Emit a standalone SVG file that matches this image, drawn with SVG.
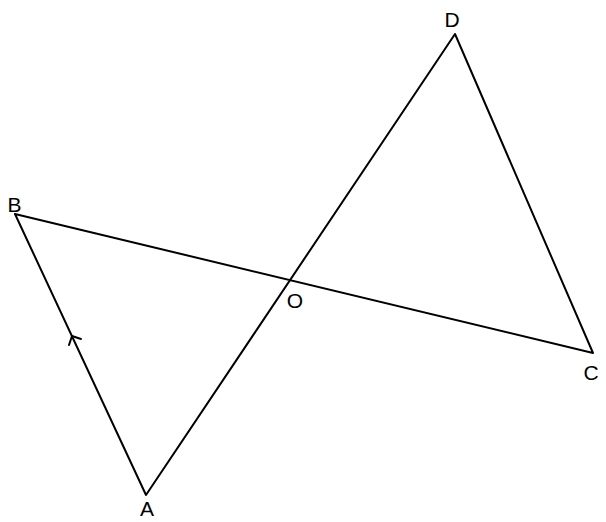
<svg xmlns="http://www.w3.org/2000/svg" width="606" height="522" viewBox="0 0 606 522">
<style>
.l{stroke:#000;stroke-width:2;fill:none;stroke-linecap:round;stroke-linejoin:round}
.t{font-family:"Liberation Sans",Arial,sans-serif;font-size:21px;fill:#000;text-anchor:middle}
</style>
<rect width="606" height="522" fill="#fff"/>
<g id="connectors">
<path class="l" d="M15,214 L593,353 L455,34 L146,495 Z"/>
<path class="l" d="M69,345 L72,336 L81,339"/>
</g>
<g id="B"><text class="t" x="14.5" y="212">B</text></g>
<g id="D"><text class="t" x="452" y="27">D</text></g>
<g id="A"><text class="t" x="147" y="516">A</text></g>
<g id="O"><text class="t" x="295" y="308">O</text></g>
<g id="C"><text class="t" x="591" y="380">C</text></g>
</svg>
